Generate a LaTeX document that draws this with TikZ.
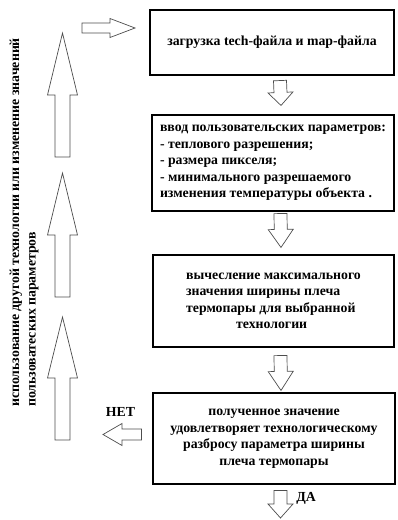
\documentclass[tikz,border=0pt]{standalone}
\usepackage{fontspec}
\setmainfont{Liberation Serif}
\usetikzlibrary{calc}
\definecolor{arrowgray}{HTML}{4D4D4D}

\begin{document}
\begin{tikzpicture}[x=1pt,y=-1pt,
  txt/.style={font=\bfseries\fontsize{13.8}{16.5}\selectfont},
  box/.style={txt, draw, line width=1.1pt, inner sep=2pt},
  blk/.style n args={3}{draw=arrowgray, line width=0.7pt, fill=white,
    to path={let \p1=(\tikztostart), \p2=(\tikztotarget), \p3=($(\p2)!#3!(\p1)$) in
      ($(\p1)!#1!90:(\p2)$) -- ($(\p3)!#1!90:(\p2)$) -- ($(\p3)!#2!90:(\p2)$) -- (\p2)
      -- ($(\p3)!#2!-90:(\p2)$) -- ($(\p3)!#1!-90:(\p2)$) -- ($(\p1)!#1!-90:(\p2)$) -- cycle}},
  downarr/.style={blk={6.5pt}{12.5pt}{#1}},
  uparr/.style={blk={7.5pt}{15pt}{#1}}]
\useasboundingbox (0,0) rectangle (398,520);

\node[box, minimum width=244, minimum height=65] (zagr) at (272,42.5) {загрузка tech-файла и map-файла};
\node[box, minimum width=242, minimum height=96, align=left] (vvod) at (273,163) {ввод пользовательских параметров:\\
- теплового разрешения;\\
- размера пикселя;\\
- минимального разрешаемого\\
изменения температуры объекта .};
\node[box, minimum width=241, minimum height=92, align=left] (vych) at (273.5,301) {вычесление максимального\\
значения ширины плеча\\
термопары для выбранной\\
\hspace*{50pt}технологии};
\node[box, minimum width=242, minimum height=91, align=center] (prov) at (274,438.5) {полученное значение\\
удовлетворяет технологическому\\
разбросу параметра ширины\hspace*{33pt}\\
плеча термопары};

\node[txt] (net) at (120.5,412) {НЕТ};
\node[txt] (da) at (306,498) {ДА};
\node[txt, rotate=90, anchor=north west, align=left, inner sep=0pt] (loop) at (9.5,407) {использование другой технологии или изменение значений\\
пользоватеских параметров};

\coordinate (daend) at (280.5,518);
\coordinate (netend) at (103,434.5);
\coordinate (ret1a) at (62.5,440);
\coordinate (ret1b) at (62.5,317);
\coordinate (ret2a) at (62.5,297);
\coordinate (ret2b) at (62.5,173);
\coordinate (ret3a) at (62.5,157);
\coordinate (ret3b) at (62.5,33);
\coordinate (ret4a) at (82,28);
\coordinate (ret4b) at (135,28);

% flow down
\draw[downarr=13pt] ($(zagr.south)+(8,5)$) to ($(vvod.north)+(8,-9)$);
\draw[downarr=18pt] ($(vvod.south)+(7.5,2)$) to ($(vych.north)+(7.5,-7)$);
\draw[downarr=19pt] ($(vych.south)+(7,8)$) to ($(prov.north)+(7,-2)$);
\draw[downarr=14pt] ($(prov.south)+(6.5,6)$) to (daend);

% back loop
\draw[blk={5.5pt}{11pt}{19pt}] ($(prov.west)+(-11,-4)$) to (netend);
\draw[uparr=61pt] (ret1a) to (ret1b);
\draw[uparr=62pt] (ret2a) to (ret2b);
\draw[uparr=62pt] (ret3a) to (ret3b);
\draw[blk={5pt}{9.5pt}{25pt}] (ret4a) to (ret4b);
\end{tikzpicture}
\end{document}
